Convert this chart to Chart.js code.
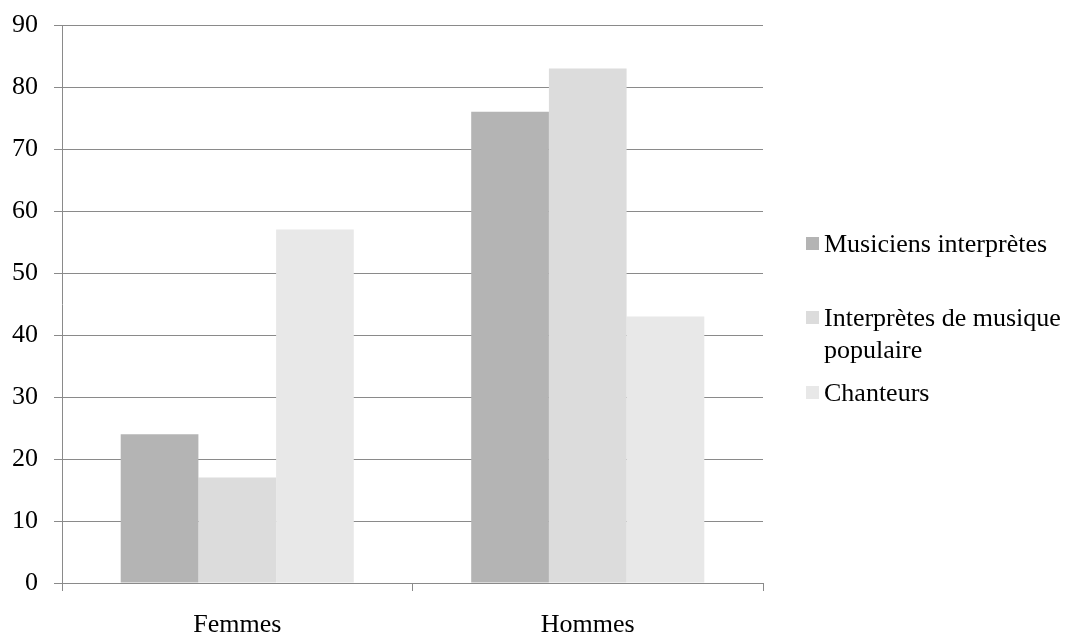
<!DOCTYPE html>
<html lang="fr">
<head>
<meta charset="utf-8">
<title>Musiciens, interprètes et chanteurs selon le sexe</title>
<script src="https://cdn.jsdelivr.net/npm/chart.js@4/dist/chart.umd.min.js"></script>
<style>
  html, body { margin: 0; padding: 0; background: #ffffff; }
  #wrap { position: relative; width: 1072px; height: 639px; }
</style>
</head>
<body>
<div id="wrap"><canvas id="chart" width="1072" height="639"></canvas></div>
<script>
// Catégories et séries
const categories = ['Femmes', 'Hommes'];
const seriesNames = ['Musiciens interprètes', 'Interprètes de musique populaire', 'Chanteurs'];
const musiciens = [24, 76];
const interpretesPopulaire = [17, 83];
const chanteurs = [57, 43];
const yTicks = [0, 10, 20, 30, 40, 50, 60, 70, 80, 90];

const seriesColors = ['#b4b4b4', '#dcdcdc', '#e8e8e8'];
const gridColor = '#8a8a8a';
const fontFamily = '"Liberation Serif", "Times New Roman", serif';
const fontSize = 26;

// Légende dessinée à droite, avec retour à la ligne des libellés longs
const sideLegend = {
  id: 'sideLegend',
  afterDraw(chart, args, opts) {
    const ctx = chart.ctx;
    ctx.save();
    ctx.font = fontSize + 'px ' + fontFamily;
    ctx.textBaseline = 'alphabetic';
    ctx.textAlign = 'left';
    chart.data.datasets.forEach((ds, i) => {
      const words = ds.label.split(' ');
      const lines = [];
      let cur = '';
      words.forEach(w => {
        const test = cur ? cur + ' ' + w : w;
        if (cur && ctx.measureText(test).width > opts.maxWidth) {
          lines.push(cur);
          cur = w;
        } else {
          cur = test;
        }
      });
      if (cur) lines.push(cur);
      const base = opts.baselines[i];
      ctx.fillStyle = ds.backgroundColor;
      ctx.fillRect(opts.boxX, base - opts.boxOffset, opts.boxSize, opts.boxSize);
      ctx.fillStyle = '#000000';
      lines.forEach((ln, k) => {
        ctx.fillText(ln, opts.textX, base + k * opts.lineHeight);
      });
    });
    ctx.restore();
  }
};

const values = [musiciens, interpretesPopulaire, chanteurs];

new Chart(document.getElementById('chart'), {
  type: 'bar',
  data: {
    labels: categories,
    datasets: seriesNames.map((name, i) => ({
      label: name,
      data: values[i],
      backgroundColor: seriesColors[i],
      borderWidth: 0,
      barPercentage: 1,
      categoryPercentage: 0.665
    }))
  },
  options: {
    responsive: false,
    animation: false,
    events: [],
    layout: { padding: { left: 0, top: 25, right: 309, bottom: 0 } },
    plugins: {
      legend: { display: false },
      tooltip: { enabled: false },
      sideLegend: {
        baselines: [252, 326, 401],
        lineHeight: 32,
        boxX: 806,
        boxSize: 13,
        boxOffset: 15,
        textX: 824,
        maxWidth: 245
      }
    },
    scales: {
      x: {
        grid: {
          offset: true,
          drawOnChartArea: false,
          drawTicks: true,
          tickLength: 8,
          color: gridColor,
          lineWidth: 1
        },
        border: { display: true, color: gridColor, width: 1 },
        ticks: {
          color: '#000000',
          font: { family: fontFamily, size: fontSize },
          padding: 19,
          maxRotation: 0
        },
        afterFit(scale) {
          scale.height = 56;
          scale.paddingLeft = 0;
          scale.paddingRight = 0;
        }
      },
      y: {
        min: 0,
        max: 90,
        afterBuildTicks(scale) { scale.ticks = yTicks.map(v => ({ value: v })); },
        grid: {
          color: gridColor,
          lineWidth: 1,
          drawTicks: true,
          tickLength: 8
        },
        border: { display: true, color: gridColor, width: 1 },
        ticks: {
          color: '#000000',
          font: { family: fontFamily, size: fontSize },
          padding: 16
        },
        afterFit(scale) {
          scale.width = 62;
          scale.paddingTop = 0;
          scale.paddingBottom = 0;
        }
      }
    }
  },
  plugins: [sideLegend]
});
</script>
</body>
</html>
